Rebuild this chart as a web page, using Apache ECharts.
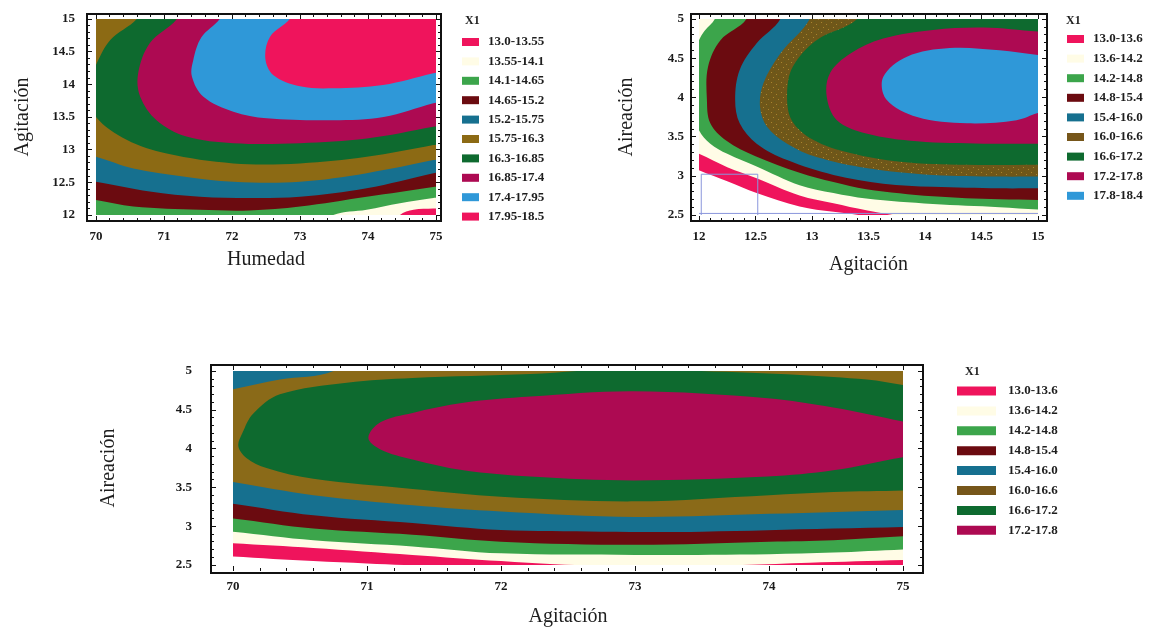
<!DOCTYPE html>
<html>
<head>
    <meta charset="utf-8">
    <title>Contornos</title>
    <script src="https://cdn.jsdelivr.net/npm/echarts@6/dist/echarts.min.js"></script>
    <style>
        html, body {margin: 0; padding: 0; background: #ffffff;}
        #main {width: 1158px; height: 628px;}
    </style>
</head>
<body>
<div id="main"></div>
<script>
    // ---- leyendas ----
    var leyenda1 = ['13.0-13.55', '13.55-14.1', '14.1-14.65', '14.65-15.2', '15.2-15.75',
        '15.75-16.3', '16.3-16.85', '16.85-17.4', '17.4-17.95', '17.95-18.5'];
    var leyenda2 = ['13.0-13.6', '13.6-14.2', '14.2-14.8', '14.8-15.4', '15.4-16.0',
        '16.0-16.6', '16.6-17.2', '17.2-17.8', '17.8-18.4'];
    var leyenda3 = ['13.0-13.6', '13.6-14.2', '14.2-14.8', '14.8-15.4', '15.4-16.0',
        '16.0-16.6', '16.6-17.2', '17.2-17.8'];

    // ---- grafico 1: Humedad (x) vs Agitacion (y), zona >= nivel ----
    var hum_1300 = [[69, 11], [76, 11], [76, 16], [69, 16]];
    var hum_1355 = [[69, 11.8], [74.38, 11.8], [74.47, 12.0], [74.67, 12.08], [74.96, 12.1], [75.3, 12.11], [75.3, 16], [69, 16]];
    var hum_1410 = [[69, 11.8], [73.3, 11.8], [73.49, 12.0], [73.98, 12.08], [74.47, 12.18], [74.96, 12.26], [75.3, 12.3], [75.3, 16], [69, 16]];
    var hum_1465 = [[69.7, 12.26], [70, 12.23], [70.55, 12.13], [71.53, 12.08], [72.26, 12.07], [73.0, 12.13], [73.98, 12.28], [74.96, 12.43], [75.3, 12.5], [75.3, 16], [69.7, 16]];
    var hum_1520 = [[69.7, 12.54], [70, 12.51], [70.79, 12.36], [71.53, 12.28], [72.26, 12.26], [73.0, 12.28], [73.98, 12.41], [74.96, 12.64], [75.3, 12.72], [75.3, 16], [69.7, 16]];
    var hum_1575 = [[69.7, 12.95], [70, 12.89], [70.55, 12.71], [71.28, 12.59], [72.02, 12.51], [73.0, 12.51], [73.98, 12.64], [74.96, 12.84], [75.3, 12.92], [75.3, 16], [69.7, 16]];
    var hum_1630 = [[70.75, 15.3], [70.6, 15.0], [70.21, 14.68], [70.01, 14.32], [69.85, 13.9], [70.0, 13.5], [70.45, 13.15], [71.04, 12.94], [72.02, 12.79], [73.0, 12.79], [73.98, 12.89], [74.96, 13.07], [75.3, 13.15], [75.3, 15.3]];
    var hum_1685 = [[71.3, 15.3], [71.19, 15.0], [70.79, 14.63], [70.62, 14.17], [70.65, 13.81], [70.89, 13.45], [71.33, 13.2], [72.02, 13.10], [73.0, 13.10], [73.98, 13.17], [74.96, 13.35], [75.3, 13.42], [75.3, 15.3]];
    var hum_1740 = [[71.95, 15.3], [71.82, 15.0], [71.55, 14.72], [71.43, 14.37], [71.41, 14.12], [71.58, 13.81], [72.02, 13.58], [72.51, 13.48], [73.49, 13.45], [74.23, 13.5], [74.96, 13.71], [75.3, 13.8], [75.3, 15.3]];
    var hum_1795 = [[73.0, 15.3], [72.85, 15.0], [72.56, 14.73], [72.49, 14.40], [72.61, 14.14], [73.0, 13.97], [73.49, 13.94], [74.22, 13.99], [74.96, 14.17], [75.3, 14.25], [75.3, 15.3]];

    // ---- grafico 2: Agitacion (x) vs Aireacion (y) ----
    var agi_1300 = [[11.8, 3.2], [12.0, 3.07], [12.25, 2.93], [12.51, 2.78], [12.89, 2.61], [13.19, 2.54], [13.45, 2.49], [13.7, 2.4], [13.8, 2.2], [15.3, 2.2], [15.3, 5.3], [11.8, 5.3]];
    var agi_1360 = [[11.8, 3.4], [12.0, 3.28], [12.25, 3.11], [12.51, 2.97], [12.89, 2.75], [13.19, 2.65], [13.48, 2.56], [13.75, 2.49], [14.0, 2.42], [14.1, 2.2], [15.3, 2.2], [15.3, 5.3], [11.8, 5.3]];
    var agi_1420 = [[12.2, 5.3], [12.14, 5.0], [12.05, 4.85], [12.0, 4.73], [11.85, 4.2], [12.0, 3.58], [12.10, 3.41], [12.25, 3.28], [12.51, 3.12], [12.89, 2.88], [13.19, 2.78], [13.48, 2.71], [14.07, 2.64], [14.66, 2.6], [15.0, 2.57], [15.3, 2.56], [15.3, 5.3]];
    var agi_1480 = [[12.45, 5.3], [12.42, 5.0], [12.19, 4.73], [12.08, 4.39], [12.07, 3.97], [12.10, 3.67], [12.24, 3.45], [12.5, 3.25], [12.89, 3.04], [13.19, 2.92], [13.48, 2.83], [14.07, 2.74], [14.66, 2.7], [15.0, 2.69], [15.3, 2.68], [15.3, 5.3]];
    var agi_1540 = [[12.75, 5.3], [12.72, 5.0], [12.51, 4.69], [12.36, 4.35], [12.32, 3.97], [12.36, 3.67], [12.51, 3.41], [12.78, 3.2], [13.19, 3.01], [13.63, 2.9], [14.07, 2.86], [14.66, 2.84], [15.0, 2.84], [15.3, 2.84], [15.3, 5.3]];
    var agi_1600 = [[13.0, 5.3], [12.98, 5.0], [12.72, 4.56], [12.57, 4.18], [12.54, 3.88], [12.6, 3.63], [12.78, 3.41], [13.04, 3.24], [13.48, 3.1], [14.07, 3.01], [14.66, 2.99], [15.0, 2.99], [15.3, 2.99], [15.3, 5.3]];
    var agi_1660 = [[13.45, 5.3], [13.4, 5.0], [13.04, 4.73], [12.83, 4.39], [12.78, 4.05], [12.82, 3.71], [13.01, 3.46], [13.34, 3.29], [13.78, 3.18], [14.37, 3.14], [15.0, 3.14], [15.3, 3.14], [15.3, 5.3]];
    var agi_1720 = [[15.3, 4.83], [15.0, 4.84], [14.52, 4.89], [14.07, 4.86], [13.63, 4.75], [13.34, 4.56], [13.16, 4.31], [13.13, 4.01], [13.22, 3.71], [13.48, 3.54], [13.93, 3.44], [14.52, 3.41], [15.0, 3.41], [15.3, 3.41]];
    var agi_1780 = [[15.3, 4.5], [15.0, 4.54], [14.66, 4.6], [14.22, 4.63], [13.84, 4.52], [13.63, 4.26], [13.66, 3.97], [13.93, 3.75], [14.37, 3.67], [14.81, 3.71], [15.0, 3.8], [15.3, 3.9]];
    var agi_caja = [[12.02, 2.5], [12.02, 3.02], [12.52, 3.02], [12.52, 2.5]];
    var agi_base = [[12, 2.52], [15, 2.52]];

    // ---- grafico 3: Agitacion (x) vs Aireacion (y) ----
    var air_1300 = [[69.8, 2.63], [70, 2.61], [70.6, 2.55], [71.0, 2.52], [71.4, 2.49], [71.8, 2.45], [72.0, 2.3], [75.3, 2.3], [75.3, 5.3], [69.8, 5.3]];
    var air_1360 = [[69.8, 2.8], [70, 2.78], [70.6, 2.72], [71.34, 2.63], [72.0, 2.55], [72.4, 2.51], [72.9, 2.485], [73.4, 2.48], [73.8, 2.5], [74.3, 2.53], [75, 2.565], [75.3, 2.58], [75.3, 5.3], [69.8, 5.3]];
    var air_1420 = [[69.8, 2.96], [70, 2.93], [70.6, 2.82], [71.34, 2.74], [72.0, 2.65], [73.0, 2.63], [74.0, 2.64], [74.48, 2.66], [75, 2.70], [75.3, 2.72], [75.3, 5.3], [69.8, 5.3]];
    var air_1480 = [[69.8, 3.13], [70, 3.10], [70.6, 2.97], [71.34, 2.89], [72.0, 2.80], [73.0, 2.76], [74.0, 2.80], [74.48, 2.82], [75, 2.87], [75.3, 2.9], [75.3, 5.3], [69.8, 5.3]];
    var air_1540 = [[69.8, 3.33], [70, 3.29], [70.6, 3.14], [71.34, 3.04], [72.0, 2.95], [72.75, 2.93], [73.5, 2.93], [74.48, 2.97], [75, 2.99], [75.3, 3.0], [75.3, 5.3], [69.8, 5.3]];
    var air_1600 = [[69.8, 4.7], [69.99, 4.76], [70.35, 4.89], [70.75, 5.0], [70.9, 5.3], [75.3, 5.3], [75.3, 3.22], [75, 3.21], [74.0, 3.16], [73.0, 3.12], [72.0, 3.19], [71.34, 3.27], [70.6, 3.40], [70, 3.57], [69.8, 3.62]];
    var air_1660 = [[70.25, 3.75], [70.1, 3.88], [70.04, 4.03], [70.07, 4.2], [70.15, 4.45], [70.35, 4.70], [70.85, 4.85], [71.34, 4.91], [72.22, 4.96], [72.9, 5.03], [73.49, 5.0], [74.23, 4.95], [74.73, 4.89], [75, 4.82], [75.3, 4.75], [75.3, 3.48], [75, 3.46], [74.48, 3.44], [74.0, 3.40], [73.0, 3.32], [72.0, 3.38], [71.34, 3.48], [70.6, 3.61]];
    var air_1720 = [[71.01, 4.14], [71.10, 4.34], [71.34, 4.46], [71.72, 4.59], [72.22, 4.67], [72.99, 4.74], [73.99, 4.65], [74.48, 4.53], [75, 4.35], [75.3, 4.25], [75.3, 3.95], [75, 3.89], [74.48, 3.72], [73.99, 3.64], [72.99, 3.59], [72.22, 3.64], [71.72, 3.72], [71.34, 3.86], [71.10, 3.99]];

    var zonas1 = [hum_1300, hum_1355, hum_1410, hum_1465, hum_1520, hum_1575, hum_1630, hum_1685, hum_1740, hum_1795];
    var zonas2 = [agi_1300, agi_1360, agi_1420, agi_1480, agi_1540, agi_1600, agi_1660, agi_1720, agi_1780];
    var zonas3 = [air_1300, air_1360, air_1420, air_1480, air_1540, air_1600, air_1660, air_1720];

    // ---- estilos ----
    var fuente = '"Liberation Serif", "DejaVu Serif", serif';
    var rosa = '#ef145c', crema = '#fffce6', verde = '#3ca54b', granate = '#6b0b10', azulVerde = '#16708f',
        marron = '#8c6a14', verdeOsc = '#0e6a2f', carmin = '#ad0a52', celeste = '#2f98d8';
    var colores1 = [rosa, crema, verde, granate, azulVerde, marron, verdeOsc, carmin, celeste, rosa];
    var colores2 = [rosa, crema, verde, granate, azulVerde, '#76561a', verdeOsc, carmin, celeste];
    var colores3 = [rosa, crema, verde, granate, azulVerde, '#8a6a18', verdeOsc, carmin];

    // textura moteada de la banda marron del grafico 2
    var textura = document.createElement('canvas');
    textura.width = 10;
    textura.height = 10;
    var tx = textura.getContext('2d');
    tx.fillStyle = '#6f5719';
    tx.fillRect(0, 0, 10, 10);
    tx.fillStyle = '#a8852e';
    tx.fillRect(1, 2, 1, 1);
    tx.fillRect(6, 4, 1, 1);
    tx.fillRect(3, 7, 1, 1);
    tx.fillRect(8, 9, 1, 1);
    tx.fillStyle = '#5e5a1e';
    tx.fillRect(4, 1, 1, 1);
    tx.fillRect(8, 6, 1, 1);

    var myChart = echarts.init(document.getElementById('main'), null, {renderer: 'canvas'});

    function banda(nombre, puntos, color, idx, relleno) {
        return {
            type: 'custom',
            name: nombre,
            xAxisIndex: idx,
            yAxisIndex: idx,
            clip: true,
            silent: true,
            itemStyle: {color: color},
            data: [puntos[0]],
            renderItem: function (params, api) {
                var pts = puntos.map(function (p) {
                    return api.coord(p);
                });
                return {
                    type: 'polygon',
                    shape: {points: pts, smooth: 0.35},
                    style: {fill: relleno || color, stroke: null}
                };
            }
        };
    }

    function ejeX(g, min, max, paso, pos, desp, etiquetas, nombre, hueco) {
        return {
            type: 'value', gridIndex: g, min: min, max: max, interval: paso,
            position: pos, offset: desp,
            name: nombre || '', nameLocation: 'middle', nameGap: hueco || 0,
            nameTextStyle: {fontFamily: fuente, fontSize: 20, color: '#1e1e1e'},
            axisLine: {show: false},
            axisTick: {show: true, inside: true, length: 5, lineStyle: {color: '#111', width: 1}},
            minorTick: {show: true, splitNumber: 5, length: 3, lineStyle: {color: '#111', width: 1}},
            axisLabel: {
                show: etiquetas, margin: 9, showMinLabel: true, showMaxLabel: true,
                color: '#1a1a1a', fontFamily: fuente, fontWeight: 'bold', fontSize: 13
            },
            splitLine: {show: false},
            minorSplitLine: {show: false}
        };
    }

    function ejeY(g, min, max, paso, pos, desp, etiquetas, margen, nombre, hueco) {
        var e = ejeX(g, min, max, paso, pos, desp, etiquetas, nombre, hueco);
        e.axisLabel.margin = margen;
        return e;
    }

    function leyenda(nombres, x, y, ancho, alto, hueco, sep) {
        return {
            data: nombres, orient: 'vertical', left: x, top: y, icon: 'rect',
            itemWidth: ancho, itemHeight: alto, itemGap: hueco, selectedMode: false,
            textStyle: {
                fontFamily: fuente, fontWeight: 'bold', fontSize: 13, color: '#1e1e1e',
                lineHeight: 14, padding: [0, 0, 0, sep]
            }
        };
    }

    var series = [];
    zonas1.forEach(function (z, i) {
        series.push(banda(leyenda1[i], z, colores1[i], 0));
    });
    zonas2.forEach(function (z, i) {
        series.push(banda(leyenda2[i], z, colores2[i], 1, i === 5 ? {image: textura, repeat: 'repeat'} : null));
    });
    [agi_caja, agi_base].forEach(function (l) {
        series.push({
            type: 'line', xAxisIndex: 1, yAxisIndex: 1, data: l, symbol: 'none', silent: true,
            lineStyle: {color: '#8a96dc', width: 1}, z: 3
        });
    });
    zonas3.forEach(function (z, i) {
        series.push(banda(leyenda3[i], z, colores3[i], 2));
    });

    var marco = {type: 'rect', shape: {}, style: {fill: null, stroke: '#111', lineWidth: 2}, z: 10};

    var option = {
        animation: false,
        backgroundColor: '#ffffff',
        grid: [
            {left: 96, top: 19, width: 340, height: 196},
            {left: 699, top: 19, width: 339, height: 196},
            {left: 233, top: 371, width: 670, height: 196}
        ],
        xAxis: [
            ejeX(0, 70, 75, 1, 'bottom', 6, true, 'Humedad', 29),
            ejeX(1, 12, 15, 0.5, 'bottom', 6, true, 'Agitación', 34),
            ejeX(2, 70, 75, 1, 'bottom', 6, true, 'Agitación', 36),
            ejeX(0, 70, 75, 1, 'top', 5, false),
            ejeX(1, 12, 15, 0.5, 'top', 5, false),
            ejeX(2, 70, 75, 1, 'top', 6, false)
        ],
        yAxis: [
            ejeY(0, 12, 15, 0.5, 'left', 9, true, 12, 'Agitación', 54),
            ejeY(1, 2.5, 5, 0.5, 'left', 8, true, 7, 'Aireación', 54),
            ejeY(2, 2.5, 5, 0.5, 'left', 22, true, 19, 'Aireación', 92),
            ejeY(0, 12, 15, 0.5, 'right', 5, false, 0),
            ejeY(1, 2.5, 5, 0.5, 'right', 9, false, 0),
            ejeY(2, 2.5, 5, 0.5, 'right', 20, false, 0)
        ],
        legend: [
            leyenda(leyenda1, 457, 30, 17, 8, 5.4, 4),
            leyenda(leyenda2, 1062, 27, 17, 8, 5.6, 4),
            leyenda(leyenda3, 952, 379, 39, 9, 5.9, 7)
        ],
        graphic: [
            echarts.util.merge({shape: {x: 87, y: 14, width: 354, height: 207}}, marco, true),
            echarts.util.merge({shape: {x: 691, y: 14, width: 356, height: 207}}, marco, true),
            echarts.util.merge({shape: {x: 211, y: 365, width: 712, height: 208}}, marco, true),
            {type: 'text', left: 465, top: 15, style: {text: 'X1', font: 'bold 12px ' + fuente, fill: '#1e1e1e'}},
            {type: 'text', left: 1066, top: 15, style: {text: 'X1', font: 'bold 12px ' + fuente, fill: '#1e1e1e'}},
            {type: 'text', left: 965, top: 366, style: {text: 'X1', font: 'bold 12px ' + fuente, fill: '#1e1e1e'}}
        ],
        series: series
    };

    myChart.setOption(option);

    window.onresize = function () {
        myChart.resize();
    };
</script>
</body>
</html>
